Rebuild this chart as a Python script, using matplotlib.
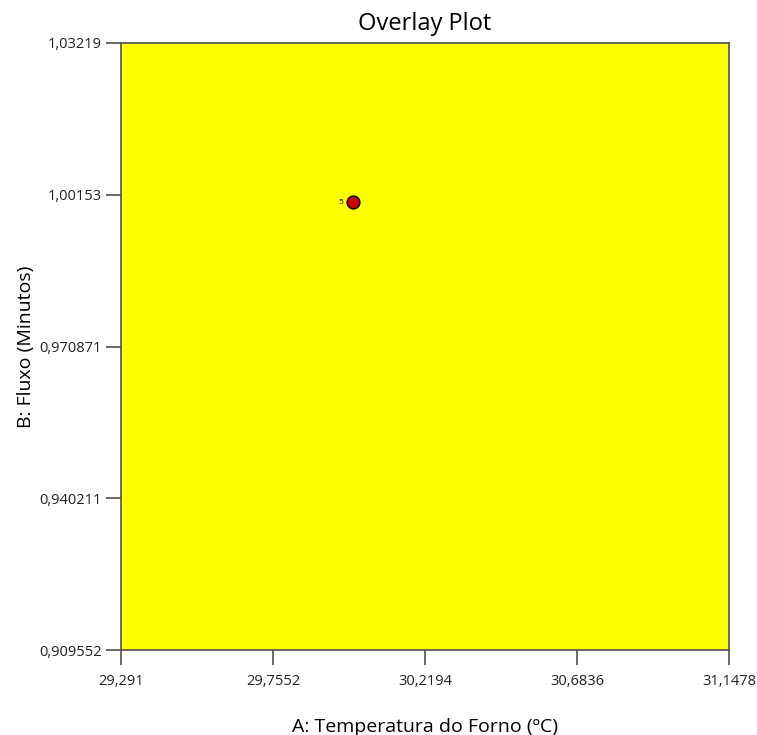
import matplotlib
matplotlib.use('Agg')
import matplotlib.pyplot as plt

plt.rcParams['font.family'] = ['Open Sans', 'DejaVu Sans']

x_ticks = [29.291, 29.7552, 30.2194, 30.6836, 31.1478]
x_labels = ['29,291', '29,7552', '30,2194', '30,6836', '31,1478']
y_ticks = [0.909552, 0.940211, 0.970871, 1.00153, 1.03219]
y_labels = ['0,909552', '0,940211', '0,970871', '1,00153', '1,03219']
pt_x = [30.0]
pt_y = [1.0]
pt_lab = ['5']

fig = plt.figure(figsize=(7.57, 7.35), dpi=100)
ax = fig.add_axes([121/757, 85/735, 608/757, 607/735])
ax.set_facecolor('#ffff00')
ax.set_xlim(x_ticks[0], x_ticks[-1])
ax.set_ylim(y_ticks[0], y_ticks[-1])
ax.set_xticks(x_ticks)
ax.set_xticklabels(x_labels)
ax.set_yticks(y_ticks)
ax.set_yticklabels(y_labels)
ax.tick_params(direction='out', length=10.5, width=1.2, color='#505050', labelsize=10.5,
               labelcolor='#222222', pad=3.5)
ax.tick_params(axis='x', pad=6.5)
for s in ax.spines.values():
    s.set_color('#505050')
    s.set_linewidth(1.2)

ax.scatter(pt_x, pt_y, s=85, c='#cc0000', edgecolors='black', linewidths=1, zorder=3)
for xx, yy, t in zip(pt_x, pt_y, pt_lab):
    ax.annotate(t, (xx, yy), xytext=(-7, 0), textcoords='offset points',
                ha='right', va='center', fontsize=6)

ax.set_title('Overlay Plot', fontsize=17, pad=9.5)
ax.set_xlabel('A: Temperatura do Forno (ºC)', fontsize=14, labelpad=21)
ax.set_ylabel('B: Fluxo (Minutos)', fontsize=14, labelpad=3)

fig.savefig('out.png', dpi=100)
